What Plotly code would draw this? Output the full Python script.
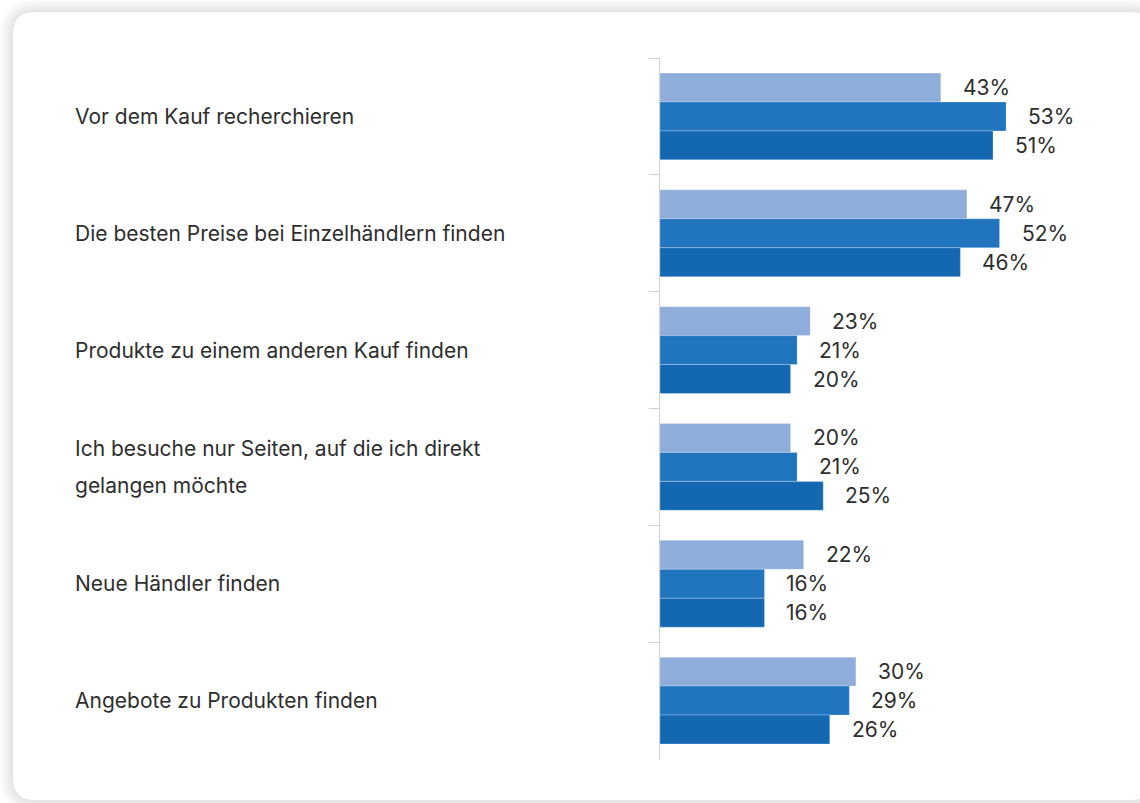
import plotly.graph_objects as go

categories = [
    "Vor dem Kauf recherchieren",
    "Die besten Preise bei Einzelhändlern finden",
    "Produkte zu einem anderen Kauf finden",
    "Ich besuche nur Seiten, auf die ich direkt\ngelangen möchte",
    "Neue Händler finden",
    "Angebote zu Produkten finden",
]
series_a = [43, 47, 23, 20, 22, 30]
series_b = [53, 52, 21, 21, 16, 29]
series_c = [51, 46, 20, 25, 16, 26]
series_colors = ["#8FADDB", "#2175BE", "#1468B2"]
series_names = ["Serie 1", "Serie 2", "Serie 3"]

W, H = 1140, 803
FONT = "Inter"
TEXT_COLOR = "#2e2e2e"
FS = 21

# plot area in pixels
x0_px, x1_px = 660, 1140
y_top_px, y_bot_px = 58, 759
px_per_unit = 6.53
x_max = (x1_px - x0_px) / px_per_unit

fig = go.Figure()
all_series = [series_a, series_b, series_c]
for vals, col, name in zip(all_series, series_colors, series_names):
    fig.add_trace(go.Bar(
        y=categories, x=vals, orientation="h", name=name,
        marker=dict(color=col, line=dict(color="rgba(255,255,255,0.25)", width=1)),
        hoverinfo="skip",
    ))

n = len(all_series)
band = (y_bot_px - y_top_px) / len(categories)
gap = 0.257
bar_h = band * (1 - gap) / n
annotations = []
for si, vals in enumerate(all_series):
    offset = (si - (n - 1) / 2) * bar_h
    for cat, v in zip(categories, vals):
        annotations.append(dict(
            x=v, y=cat, xref="x", yref="y", text=f"{v}%", showarrow=False,
            xanchor="left", yanchor="middle", xshift=20, yshift=-offset,
            font=dict(family=FONT, size=FS, color=TEXT_COLOR),
        ))

for cat in categories:
    lines = cat.split("\n")
    k = len(lines)
    for li, line in enumerate(lines):
        shift = ((k - 1) / 2 - li) * 37
        annotations.append(dict(
            x=73 / W, y=cat, xref="paper", yref="y", text=line, showarrow=False,
            xanchor="left", yanchor="middle", yshift=shift,
            font=dict(family=FONT, size=FS, color=TEXT_COLOR),
        ))

def rounded(xl, yt, xr, yb, r):
    X = lambda p: p / W
    Y = lambda p: 1 - p / H
    return (f"M {X(xl + r)} {Y(yt)} L {X(xr - r)} {Y(yt)} Q {X(xr)} {Y(yt)} {X(xr)} {Y(yt + r)} "
            f"L {X(xr)} {Y(yb - r)} Q {X(xr)} {Y(yb)} {X(xr - r)} {Y(yb)} "
            f"L {X(xl + r)} {Y(yb)} Q {X(xl)} {Y(yb)} {X(xl)} {Y(yb - r)} "
            f"L {X(xl)} {Y(yt + r)} Q {X(xl)} {Y(yt)} {X(xl + r)} {Y(yt)} Z")

shapes = []
for i in range(13, 0, -1):
    shapes.append(dict(type="path", xref="paper", yref="paper", layer="below",
                       path=rounded(13 - i, 12 - i, 1152 + i, 800 + i, 22 + i),
                       fillcolor="rgba(0,0,0,0.008)", line=dict(width=0)))
shapes.append(dict(type="path", xref="paper", yref="paper", layer="below",
                   path=rounded(13, 12, 1152, 800, 22),
                   fillcolor="#ffffff", line=dict(width=0)))

fig.update_layout(
    width=W, height=H,
    margin=dict(l=0, r=0, t=0, b=0),
    paper_bgcolor="#ffffff", plot_bgcolor="rgba(0,0,0,0)",
    barmode="group", bargap=gap, bargroupgap=0,
    showlegend=False,
    xaxis=dict(domain=[x0_px / W, x1_px / W], range=[0, x_max],
               visible=False, fixedrange=True),
    yaxis=dict(domain=[1 - y_bot_px / H, 1 - y_top_px / H], autorange="reversed",
               showticklabels=False, showline=True, linecolor="#d0d0d0", linewidth=1,
               ticks="outside", tickson="boundaries", ticklen=10, tickcolor="#d0d0d0",
               showgrid=False, zeroline=False, fixedrange=True),
    annotations=annotations,
    shapes=shapes,
    font=dict(family=FONT),
)

fig.write_html("out.html")
